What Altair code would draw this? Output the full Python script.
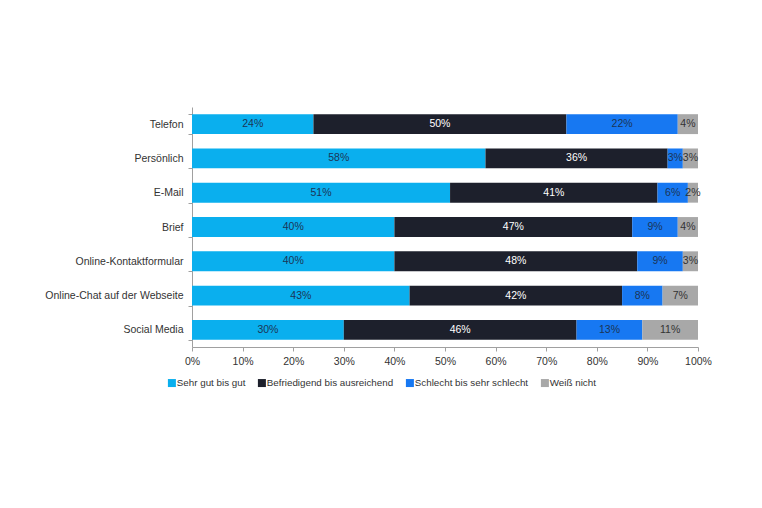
import altair as alt
import pandas as pd

# Survey: satisfaction with customer-service contact channels
channels = [
    "Telefon",
    "Persönlich",
    "E-Mail",
    "Brief",
    "Online-Kontaktformular",
    "Online-Chat auf der Webseite",
    "Social Media",
]
ratings = [
    "Sehr gut bis gut",
    "Befriedigend bis ausreichend",
    "Schlecht bis sehr schlecht",
    "Weiß nicht",
]
sehr_gut = [24, 58, 51, 40, 40, 43, 30]
befriedigend = [50, 36, 41, 47, 48, 42, 46]
schlecht = [22, 3, 6, 9, 9, 8, 13]
weiss_nicht = [4, 3, 2, 4, 3, 7, 11]

bar_colors = ["#0AAFEE", "#1D202C", "#1778F2", "#A8A8A8"]
text_colors = ["#1B3556", "#FFFFFF", "#1B3556", "#333333"]

series = [sehr_gut, befriedigend, schlecht, weiss_nicht]

rows = []
for i, ch in enumerate(channels):
    start = 0
    for k, rating in enumerate(ratings):
        v = series[k][i]
        rows.append({
            "Kanal": ch,
            "Bewertung": rating,
            "Wert": v,
            "x0": start,
            "x1": start + v,
            "mid": start + v / 2,
            "label": f"{v}%",
            "tcolor": text_colors[k],
            "ord": k,
        })
        start += v
df = pd.DataFrame(rows)

FONT = "Liberation Sans"

y_enc = alt.Y(
    "Kanal:N",
    sort=channels,
    title=None,
    scale=alt.Scale(paddingInner=0.42, paddingOuter=0.21),
    axis=alt.Axis(
        tickBand="extent",
        tickSize=4,
        labelPadding=5,
        labelFontSize=10.5,
        labelColor="#333333",
        labelFont=FONT,
        domainColor="#A0A0A0",
        tickColor="#A0A0A0",
    ),
)

bars = alt.Chart(df).mark_bar().encode(
    x=alt.X(
        "x0:Q",
        title=None,
        scale=alt.Scale(domain=[0, 100], nice=False),
        axis=alt.Axis(
            values=list(range(0, 101, 10)),
            labelExpr="datum.value + '%'",
            labelFlush=False,
            grid=False,
            tickSize=4,
            labelPadding=5,
            labelFontSize=10.5,
            labelColor="#333333",
            labelFont=FONT,
            domainColor="#A0A0A0",
            tickColor="#A0A0A0",
        ),
    ),
    x2="x1:Q",
    y=y_enc,
    color=alt.Color(
        "Bewertung:N",
        scale=alt.Scale(domain=ratings, range=bar_colors),
        legend=alt.Legend(
            title=None,
            orient="none",
            direction="horizontal",
            legendX=-25,
            legendY=271,
            symbolType="square",
            symbolSize=64,
            symbolStrokeWidth=0,
            labelOffset=0,
            columnPadding=11,
            labelFontSize=9.8,
            labelColor="#333333",
            labelFont=FONT,
        ),
    ),
    order=alt.Order("ord:Q"),
)

labels = alt.Chart(df).mark_text(
    fontSize=10.5, font=FONT, align="center", baseline="middle"
).encode(
    x="mid:Q",
    y=alt.Y("Kanal:N", sort=channels),
    text="label:N",
    color=alt.Color("tcolor:N", scale=None),
)

chart = (
    alt.layer(bars, labels)
    .properties(
        width=506,
        height=240,
        autosize=alt.AutoSizeParams(type="none"),
        padding={"left": 192, "top": 107, "right": 64, "bottom": 161},
        background="white",
    )
    .configure_view(stroke=None)
)

chart.save("out.html", embed_options={"renderer": "svg", "actions": False})
